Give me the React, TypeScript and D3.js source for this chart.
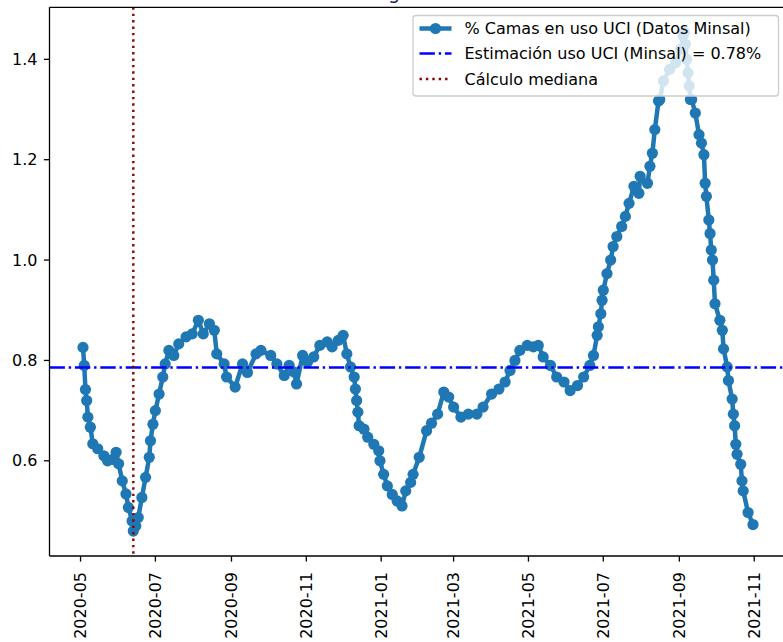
import React from "react";
import * as d3 from "d3";

const dates: string[] = [
  "2020-05-03","2020-05-04","2020-05-05","2020-05-06","2020-05-07","2020-05-09","2020-05-11","2020-05-15","2020-05-20","2020-05-23",
  "2020-05-27","2020-05-30","2020-06-01","2020-06-04","2020-06-07","2020-06-09","2020-06-12","2020-06-13","2020-06-15","2020-06-17",
  "2020-06-20","2020-06-23","2020-06-26","2020-06-27","2020-06-29","2020-07-01","2020-07-04","2020-07-07","2020-07-09","2020-07-12",
  "2020-07-16","2020-07-20","2020-07-26","2020-07-31","2020-08-05","2020-08-09","2020-08-14","2020-08-18","2020-08-20","2020-08-26",
  "2020-08-28","2020-09-04","2020-09-10","2020-09-14","2020-09-21","2020-09-25","2020-10-03","2020-10-08","2020-10-14","2020-10-18",
  "2020-10-22","2020-10-24","2020-10-29","2020-11-02","2020-11-07","2020-11-12","2020-11-18","2020-11-22","2020-11-27","2020-12-01",
  "2020-12-04","2020-12-07","2020-12-10","2020-12-11","2020-12-12","2020-12-13","2020-12-14","2020-12-18","2020-12-21","2020-12-26",
  "2020-12-30","2020-12-31","2021-01-03","2021-01-06","2021-01-10","2021-01-14","2021-01-18","2021-01-21","2021-01-25","2021-01-27",
  "2021-02-01","2021-02-07","2021-02-11","2021-02-16","2021-02-21","2021-02-25","2021-03-01","2021-03-07","2021-03-13","2021-03-20",
  "2021-03-25","2021-04-01","2021-04-07","2021-04-12","2021-04-16","2021-04-20","2021-04-24","2021-04-30","2021-05-05","2021-05-09",
  "2021-05-13","2021-05-19","2021-05-24","2021-05-30","2021-06-04","2021-06-10","2021-06-15","2021-06-20","2021-06-23","2021-06-26",
  "2021-06-27","2021-06-29","2021-06-30","2021-07-01","2021-07-04","2021-07-07","2021-07-09","2021-07-12","2021-07-16","2021-07-19",
  "2021-07-22","2021-07-26","2021-07-30","2021-07-31","2021-08-06","2021-08-08","2021-08-10","2021-08-12","2021-08-15","2021-08-16",
  "2021-08-19","2021-08-24","2021-08-29","2021-09-02","2021-09-04","2021-09-05","2021-09-06","2021-09-07","2021-09-08","2021-09-09",
  "2021-09-10","2021-09-11","2021-09-14","2021-09-17","2021-09-19","2021-09-21","2021-09-22","2021-09-23","2021-09-25","2021-09-26",
  "2021-09-27","2021-09-28","2021-09-29","2021-09-30","2021-10-04","2021-10-06","2021-10-07","2021-10-10","2021-10-11","2021-10-14",
  "2021-10-15","2021-10-16","2021-10-17","2021-10-18","2021-10-21","2021-10-22","2021-10-23","2021-10-27","2021-10-31",
];

const usoUci: number[] = [
  0.826,0.79,0.742,0.72,0.687,0.667,0.634,0.624,0.61,0.60,
  0.603,0.617,0.594,0.56,0.534,0.507,0.48,0.46,0.47,0.487,
  0.527,0.567,0.607,0.64,0.673,0.70,0.733,0.767,0.793,0.82,
  0.81,0.833,0.847,0.853,0.88,0.853,0.873,0.86,0.813,0.793,
  0.767,0.747,0.793,0.776,0.813,0.82,0.81,0.793,0.77,0.79,
  0.777,0.753,0.81,0.797,0.807,0.83,0.837,0.827,0.84,0.85,
  0.813,0.787,0.767,0.743,0.72,0.697,0.67,0.663,0.647,0.633,
  0.62,0.60,0.573,0.55,0.533,0.52,0.51,0.54,0.557,0.573,
  0.607,0.66,0.675,0.693,0.737,0.727,0.707,0.687,0.693,0.693,
  0.707,0.733,0.743,0.757,0.78,0.80,0.82,0.83,0.827,0.83,
  0.807,0.79,0.767,0.757,0.74,0.75,0.767,0.79,0.81,0.85,
  0.867,0.893,0.92,0.94,0.973,1.0,1.027,1.047,1.067,1.087,
  1.113,1.147,1.133,1.167,1.153,1.187,1.213,1.26,1.317,1.32,
  1.357,1.38,1.393,1.42,1.447,1.454,1.43,1.40,1.373,1.347,
  1.32,1.32,1.293,1.25,1.233,1.21,1.153,1.127,1.08,1.053,
  1.02,1.0,0.96,0.913,0.88,0.86,0.823,0.787,0.76,0.723,
  0.693,0.67,0.633,0.613,0.593,0.56,0.54,0.497,0.473,
];

const estimacionMinsal = 0.786;
const fechaMediana = "2020-06-13";
const yTicks: number[] = [0.6, 0.8, 1.0, 1.2, 1.4];
const legendLabels: string[] = [
  "% Camas en uso UCI (Datos Minsal)",
  "Estimación uso UCI (Minsal) = 0.78%",
  "Cálculo mediana",
];
const titleText = "Uso UCI según datos Minsal";

const W = 783;
const H = 642;
const left = 49.5;
const right = 786.5;
const top = 7.3;
const bottom = 556;
const FONT = "DejaVu Sans, sans-serif";
const BLUE = "#1f77b4";

export default function App() {
  const parse = d3.utcParse("%Y-%m-%d");
  const pts = dates.map((d, i) => ({ t: parse(d) as Date, v: usoUci[i] }));
  const [t0, t1] = d3.extent(pts, (p) => p.t) as [Date, Date];
  const span = +t1 - +t0;
  const x = d3
    .scaleUtc()
    .domain([new Date(+t0 - span * 0.05), new Date(+t1 + span * 0.05)])
    .range([left, right]);
  const [v0, v1] = d3.extent(pts, (p) => p.v) as [number, number];
  const vs = v1 - v0;
  const y = d3
    .scaleLinear()
    .domain([v0 - vs * 0.05, v1 + vs * 0.05])
    .range([bottom, top]);

  const line = d3
    .line<{ t: Date; v: number }>()
    .x((p) => x(p.t))
    .y((p) => y(p.v));

  const xTicks = x.ticks(d3.utcMonth.every(2) as any);
  const fmt = d3.utcFormat("%Y-%m");
  const xMed = x(parse(fechaMediana) as Date);
  const yEst = y(estimacionMinsal);

  const legX = 413;
  const legY = 15.5;
  const legW = 365.5;
  const legH = 80.5;
  const rowY = [28.5, 53.5, 79];

  return (
    <svg
      width={W}
      height={H}
      style={{ position: "absolute", left: 0, top: 0, display: "block", background: "#fff" }}
      fontFamily={FONT}
    >
      <rect x={0} y={0} width={W} height={H} fill="#fff" />
      <text x={(left + right) / 2} y={-1} textAnchor="middle" fontSize={19.2} fill="#1c1c6e">
        {titleText}
      </text>
      <path d={line(pts) || ""} fill="none" stroke={BLUE} strokeWidth={4.5} strokeLinejoin="round" />
      {pts.map((p, i) => (
        <circle key={i} cx={x(p.t)} cy={y(p.v)} r={5.6} fill={BLUE} />
      ))}
      <line
        x1={left}
        x2={right}
        y1={yEst}
        y2={yEst}
        stroke="#0000ff"
        strokeWidth={2.4}
        strokeDasharray="15.4,3.8,2.4,3.8"
      />
      <line
        x1={xMed}
        x2={xMed}
        y1={top}
        y2={bottom}
        stroke="#8b0000"
        strokeWidth={2.4}
        strokeDasharray="2.4,4"
      />
      {/* spines */}
      <line x1={left} x2={left} y1={top} y2={bottom} stroke="#000" strokeWidth={1.3} />
      <line x1={left} x2={right} y1={bottom} y2={bottom} stroke="#000" strokeWidth={1.3} />
      <line x1={left} x2={right} y1={top} y2={top} stroke="#000" strokeWidth={1.3} />
      <line x1={right} x2={right} y1={top} y2={bottom} stroke="#000" strokeWidth={1.3} />
      {/* y axis */}
      {yTicks.map((t) => (
        <g key={t}>
          <line x1={left - 5.6} x2={left} y1={y(t)} y2={y(t)} stroke="#000" strokeWidth={1.3} />
          <text x={37.5} y={y(t)} textAnchor="end" dominantBaseline="central" fontSize={16} fill="#000">
            {t.toFixed(1)}
          </text>
        </g>
      ))}
      {/* x axis */}
      {xTicks.map((t) => (
        <g key={+t}>
          <line x1={x(t)} x2={x(t)} y1={bottom} y2={bottom + 5.6} stroke="#000" strokeWidth={1.3} />
          <text
            transform={`translate(${x(t)},${bottom + 16}) rotate(-90)`}
            textAnchor="end"
            dominantBaseline="central"
            fontSize={16}
            fill="#000"
          >
            {fmt(t)}
          </text>
        </g>
      ))}
      {/* legend */}
      <rect
        x={legX}
        y={legY}
        width={legW}
        height={legH}
        rx={3}
        fill="#fff"
        fillOpacity={0.8}
        stroke="#cccccc"
        strokeWidth={1.3}
      />
      <line x1={419.5} x2={451.5} y1={rowY[0]} y2={rowY[0]} stroke={BLUE} strokeWidth={4.5} />
      <circle cx={435.5} cy={rowY[0]} r={5.6} fill={BLUE} />
      <line
        x1={419.5}
        x2={451.5}
        y1={rowY[1]}
        y2={rowY[1]}
        stroke="#0000ff"
        strokeWidth={2.4}
        strokeDasharray="15.4,3.8,2.4,3.8"
      />
      <line
        x1={419.5}
        x2={451.5}
        y1={rowY[2]}
        y2={rowY[2]}
        stroke="#8b0000"
        strokeWidth={2.4}
        strokeDasharray="2.4,4"
      />
      {legendLabels.map((l, i) => (
        <text key={l} x={464.5} y={rowY[i]} dominantBaseline="central" fontSize={16} fill="#000">
          {l}
        </text>
      ))}
    </svg>
  );
}
